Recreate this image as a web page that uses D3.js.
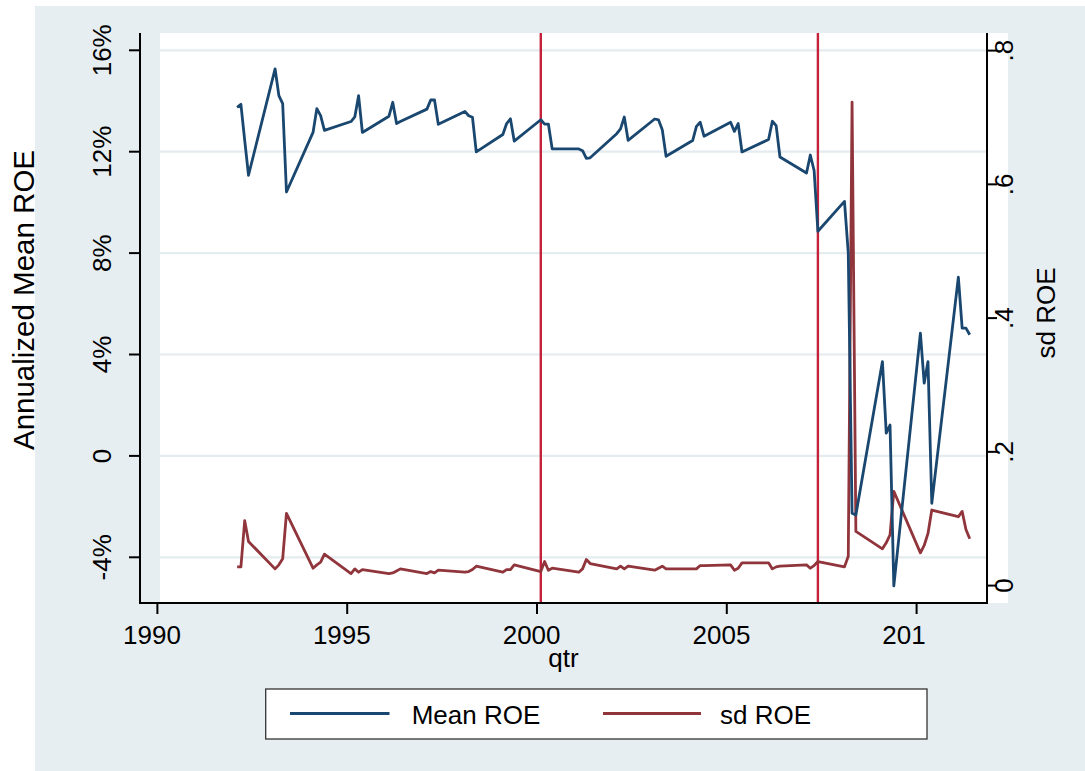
<!DOCTYPE html>
<html><head><meta charset="utf-8">
<script src="https://cdn.jsdelivr.net/npm/d3@7"></script>
<style>
html,body{margin:0;padding:0;background:#fff;}
svg text{font-family:"Liberation Sans",Arial,Helvetica,sans-serif;fill:#000;}
</style></head>
<body>
<svg id="chart" width="1085" height="771"></svg>
<script>
const qtr = [
 1992.1,1992.2,1992.3,1992.4, 1993.1,1993.2,1993.3,1993.4,
 1994.1,1994.2,1994.3,1994.4, 1995.1,1995.2,1995.3,1995.4,
 1996.1,1996.2,1996.3,1996.4, 1997.1,1997.2,1997.3,1997.4,
 1998.1,1998.2,1998.3,1998.4, 1999.1,1999.2,1999.3,1999.4,
 2000.1,2000.2,2000.3,2000.4, 2001.1,2001.2,2001.3,2001.4,
 2002.1,2002.2,2002.3,2002.4, 2003.1,2003.2,2003.3,2003.4,
 2004.1,2004.2,2004.3,2004.4, 2005.1,2005.2,2005.3,2005.4,
 2006.1,2006.2,2006.3,2006.4, 2007.1,2007.2,2007.3,2007.4,
 2008.1,2008.2,2008.3,2008.4, 2009.1,2009.2,2009.3,2009.4,
 2010.1,2010.2,2010.3,2010.4, 2011.1,2011.2,2011.3,2011.4
];
// Annualized mean ROE, in percent
const meanROE = [
 13.75,13.87,12.45,11.07, 15.27,14.21,13.90,10.41,
 12.76,13.70,13.42,12.84, 13.19,13.37,14.21,12.76,
 13.40,13.95,13.11,13.19, 13.68,14.04,14.04,13.08,
 13.59,13.42,13.36,11.99, 12.68,13.11,13.30,12.42,
 13.26,13.09,13.09,12.11, 12.11,12.04,11.74,11.76,
 12.71,12.90,13.37,12.45, 13.29,13.26,12.87,11.82,
 12.44,13.00,13.16,12.61, 13.16,12.80,13.11,11.99,
 12.48,13.20,13.03,11.79, 11.16,11.87,11.26,8.86,
 10.04,8.00,-2.26,-2.33, 3.72,0.90,1.22,-5.13,
 4.84,2.87,3.72,-1.87, 7.05,5.04,5.04,4.78
];
// sd ROE (right axis)
const sdROE = [
 0.028,0.028,0.097,0.066, 0.025,0.031,0.040,0.108,
 0.026,0.031,0.035,0.047, 0.018,0.025,0.020,0.024,
 0.018,0.019,0.022,0.025, 0.018,0.021,0.019,0.023,
 0.020,0.021,0.024,0.029, 0.020,0.024,0.024,0.031,
 0.021,0.036,0.023,0.026, 0.020,0.025,0.039,0.033,
 0.025,0.029,0.025,0.029, 0.023,0.026,0.029,0.025,
 0.025,0.025,0.030,0.030, 0.031,0.023,0.026,0.034,
 0.034,0.025,0.028,0.029, 0.031,0.026,0.030,0.036,
 0.028,0.044,0.723,0.081, 0.055,0.064,0.076,0.141,
 0.049,0.060,0.078,0.113, 0.103,0.111,0.084,0.070
];
const xTicks = [1990,1995,2000,2005,2010];
const xTickLabels = ["1990","1995","2000","2005","201"];
const yLeftTicks = [-4,0,4,8,12,16];
const yLeftLabels = ["-4%","0","4%","8%","12%","16%"];
const yRightTicks = [0,0.2,0.4,0.6,0.8];
const yRightLabels = ["0",".2",".4",".6",".8"];
const eventLines = [2000.1,2007.4];
const seriesNames = ["Mean ROE","sd ROE"];

const colBg = "#e7eef1", colGrid = "#e4ecef";
const colMean = "#1a476f", colSd = "#90353b", colEvent = "#c4213a";

const svg = d3.select("#chart");
const P = {left:140, right:987, top:33, bottom:603, whiteL:160, whiteR:1008};

const x = d3.scaleLinear().domain([1990,2010]).range([157.4,916.6]);
const yL = d3.scaleLinear().domain([-4,16]).range([557.3,50.3]);
const yR = d3.scaleLinear().domain([0,0.8]).range([585.6,50.6]);

// backgrounds
svg.append("rect").attr("x",0).attr("y",0).attr("width",1085).attr("height",771).attr("fill","#fff");
svg.append("rect").attr("x",35).attr("y",6).attr("width",1050).attr("height",765).attr("fill",colBg);
svg.append("rect").attr("x",P.whiteL).attr("y",P.top).attr("width",P.whiteR-P.whiteL).attr("height",P.bottom-P.top).attr("fill","#fff");

// gridlines
svg.append("g").selectAll("line").data(yLeftTicks).join("line")
  .attr("x1",P.whiteL).attr("x2",P.right)
  .attr("y1",d=>yL(d)).attr("y2",d=>yL(d))
  .attr("stroke",colGrid).attr("stroke-width",2.2);

// event lines
svg.append("g").selectAll("line").data(eventLines).join("line")
  .attr("x1",d=>x(d)).attr("x2",d=>x(d))
  .attr("y1",P.top).attr("y2",P.bottom)
  .attr("stroke",colEvent).attr("stroke-width",2.4);

// series
const idx = d3.range(qtr.length);
const lineMean = d3.line().x(i=>x(qtr[i])).y(i=>yL(meanROE[i]));
const lineSd = d3.line().x(i=>x(qtr[i])).y(i=>yR(sdROE[i]));
svg.append("path").attr("d",lineSd(idx)).attr("fill","none").attr("stroke",colSd)
  .attr("stroke-width",2.8).attr("stroke-linejoin","round");
svg.append("path").attr("d",lineMean(idx)).attr("fill","none").attr("stroke",colMean)
  .attr("stroke-width",2.8).attr("stroke-linejoin","round");

// axes lines
const ax = svg.append("g").attr("stroke","#000").attr("stroke-width",2);
ax.append("line").attr("x1",P.left).attr("x2",P.left).attr("y1",P.top).attr("y2",P.bottom+1);
ax.append("line").attr("x1",P.right).attr("x2",P.right).attr("y1",P.top).attr("y2",P.bottom+1);
ax.append("line").attr("x1",P.left-1).attr("x2",P.right+1).attr("y1",P.bottom).attr("y2",P.bottom);
// ticks
ax.selectAll(".tl").data(yLeftTicks).join("line").attr("class","tl")
  .attr("x1",P.left-11).attr("x2",P.left).attr("y1",d=>yL(d)).attr("y2",d=>yL(d));
ax.selectAll(".tr").data(yRightTicks).join("line").attr("class","tr")
  .attr("x1",P.right).attr("x2",P.right+10).attr("y1",d=>yR(d)).attr("y2",d=>yR(d));
ax.selectAll(".tx").data(xTicks).join("line").attr("class","tx")
  .attr("x1",d=>x(d)).attr("x2",d=>x(d)).attr("y1",P.bottom).attr("y2",P.bottom+11);

const FS = 26;
// tick labels
svg.append("g").selectAll("text").data(yLeftTicks).join("text")
  .attr("transform",d=>`translate(111,${yL(d)}) rotate(-90)`)
  .attr("text-anchor","middle").attr("font-size",FS)
  .text((d,i)=>yLeftLabels[i]);
svg.append("g").selectAll("text").data(yRightTicks).join("text")
  .attr("transform",d=>`translate(1013,${yR(d)}) rotate(-90)`)
  .attr("text-anchor","middle").attr("font-size",FS)
  .text((d,i)=>yRightLabels[i]);
svg.append("g").selectAll("text").data(xTicks).join("text")
  .attr("x",d=>x(d)-34.3).attr("y",643.5)
  .attr("text-anchor","start").attr("font-size",FS)
  .text((d,i)=>xTickLabels[i]);

// axis titles
svg.append("text").attr("transform","translate(33.5,300) rotate(-90)")
  .attr("text-anchor","middle").attr("font-size",29.5).text("Annualized Mean ROE");
svg.append("text").attr("transform","translate(1055,313) rotate(-90)")
  .attr("text-anchor","middle").attr("font-size",FS).text("sd ROE");
svg.append("text").attr("x",(P.left+P.right)/2).attr("y",667)
  .attr("text-anchor","middle").attr("font-size",FS).text("qtr");

// legend
const lg = svg.append("g");
lg.append("rect").attr("x",265.7).attr("y",689).attr("width",927-265.7).attr("height",50)
  .attr("fill","#fff").attr("stroke","#333").attr("stroke-width",1.3);
const keys = [
  {name:seriesNames[0], color:colMean, x1:290, x2:389.5, tx:411.7},
  {name:seriesNames[1], color:colSd, x1:603, x2:701, tx:720}
];
keys.forEach(k=>{
  lg.append("line").attr("x1",k.x1).attr("x2",k.x2).attr("y1",713.5).attr("y2",713.5)
    .attr("stroke",k.color).attr("stroke-width",3);
  lg.append("text").attr("x",k.tx).attr("y",723.5).attr("font-size",FS).text(k.name);
});
</script>
</body></html>
